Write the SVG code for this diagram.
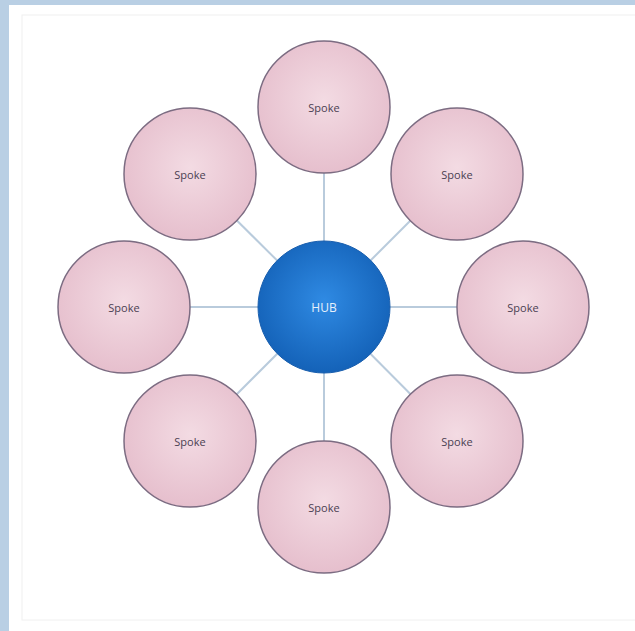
<svg xmlns="http://www.w3.org/2000/svg" width="635" height="631" viewBox="0 0 635 631">
<defs>
<radialGradient id="pink" cx="50%" cy="45%" r="55%">
<stop offset="0" stop-color="#f3dbe3"/>
<stop offset="1" stop-color="#e6bfcd"/>
</radialGradient>
<radialGradient id="blue" cx="50%" cy="45%" r="55%">
<stop offset="0" stop-color="#2f8ae3"/>
<stop offset="1" stop-color="#1462b8"/>
</radialGradient>
</defs>
<style>
.spoke{fill:url(#pink);stroke:#7c6c82;stroke-width:1.5}
.hub{fill:url(#blue);stroke:#1a5fae;stroke-width:1}
.lbl{font-family:"Open Sans","Liberation Sans",sans-serif;font-size:11px;fill:#4a4052;text-anchor:middle;dominant-baseline:central}
.hlbl{font-family:"Open Sans","Liberation Sans",sans-serif;font-size:12px;fill:#e6f0fb;text-anchor:middle;dominant-baseline:central}
.conn line{stroke:#b9cbdc;stroke-width:2}
</style>
<rect x="0" y="0" width="635" height="631" fill="#ffffff"/>
<rect x="0" y="0" width="635" height="5" fill="#b9cfe4"/>
<rect x="0" y="0" width="9" height="631" fill="#b9cfe4"/>
<rect x="22" y="15" width="640" height="605" fill="none" stroke="#f0f0f0" stroke-width="1"/>
<g id="connectors" class="conn">
<line x1="324" y1="307" x2="324" y2="107"/>
<line x1="324" y1="307" x2="457" y2="174"/>
<line x1="324" y1="307" x2="523" y2="307"/>
<line x1="324" y1="307" x2="457" y2="441"/>
<line x1="324" y1="307" x2="324" y2="507"/>
<line x1="324" y1="307" x2="190" y2="441"/>
<line x1="324" y1="307" x2="124" y2="307"/>
<line x1="324" y1="307" x2="190" y2="174"/>
</g>
<g id="spoke-top"><circle class="spoke" cx="324" cy="107" r="66"/><text class="lbl" x="324" y="107">Spoke</text></g>
<g id="spoke-top-right"><circle class="spoke" cx="457" cy="174" r="66"/><text class="lbl" x="457" y="174">Spoke</text></g>
<g id="spoke-right"><circle class="spoke" cx="523" cy="307" r="66"/><text class="lbl" x="523" y="307">Spoke</text></g>
<g id="spoke-bottom-right"><circle class="spoke" cx="457" cy="441" r="66"/><text class="lbl" x="457" y="441">Spoke</text></g>
<g id="spoke-bottom"><circle class="spoke" cx="324" cy="507" r="66"/><text class="lbl" x="324" y="507">Spoke</text></g>
<g id="spoke-bottom-left"><circle class="spoke" cx="190" cy="441" r="66"/><text class="lbl" x="190" y="441">Spoke</text></g>
<g id="spoke-left"><circle class="spoke" cx="124" cy="307" r="66"/><text class="lbl" x="124" y="307">Spoke</text></g>
<g id="spoke-top-left"><circle class="spoke" cx="190" cy="174" r="66"/><text class="lbl" x="190" y="174">Spoke</text></g>
<g id="hub"><circle class="hub" cx="324" cy="307" r="66"/><text class="hlbl" x="324" y="307">HUB</text></g>
</svg>
